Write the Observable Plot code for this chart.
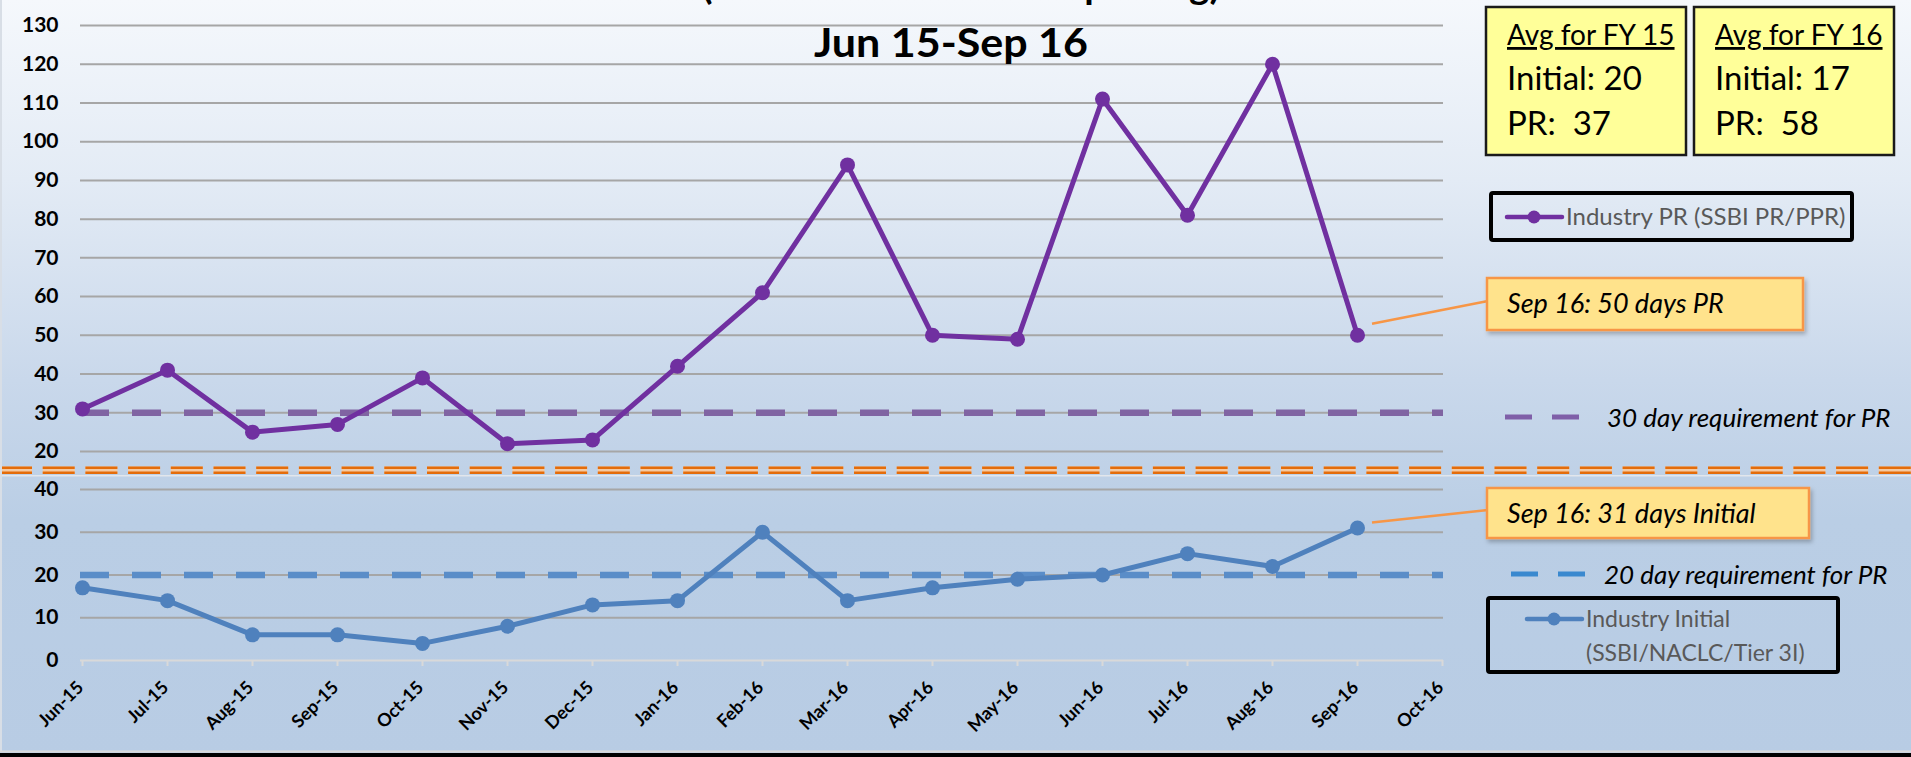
<!DOCTYPE html>
<html>
<head>
<meta charset="utf-8">
<script src="https://cdn.jsdelivr.net/npm/d3@7"></script>
<script src="https://cdn.jsdelivr.net/npm/@observablehq/plot@0.6"></script>
<style>
  html, body { margin: 0; padding: 0; }
  body { width: 1911px; height: 757px; overflow: hidden; font-family: Lato, "Open Sans", sans-serif; }
  #wrap { position: relative; width: 1911px; height: 757px;
    background: linear-gradient(to bottom, #F5F8FC 0px, #E3EBF5 180px, #C9D8EB 380px, #BACEE5 520px, #B8CCE4 757px); }
  #wrap > svg { position: absolute; left: 0; }
</style>
</head>
<body>
<div id="wrap"></div>
<script>
// ---------- data ----------
const months = ["Jun-15","Jul-15","Aug-15","Sep-15","Oct-15","Nov-15","Dec-15","Jan-16",
                "Feb-16","Mar-16","Apr-16","May-16","Jun-16","Jul-16","Aug-16","Sep-16","Oct-16"];
const prDays      = [31, 41, 25, 27, 39, 22, 23, 42, 61, 94, 50, 49, 111, 81, 120, 50];
const initialDays = [17, 14,  6,  6,  4,  8, 13, 14, 30, 14, 17, 19,  20, 25,  22, 31];
const prTicks      = [20, 30, 40, 50, 60, 70, 80, 90, 100, 110, 120, 130];
const initialTicks = [0, 10, 20, 30, 40];
const prRequirement = 30;
const initialRequirement = 20;
const titleLine1 = "(Initial and Periodic Reporting)";
const titleLine2 = "Jun 15-Sep 16";
const fyLabels  = ["Avg for FY 15", "Avg for FY 16"];
const fyInitial = [20, 17];
const fyPR      = [37, 58];
const prSeriesLabel = "Industry PR (SSBI PR/PPR)";
const initialSeriesLabel = ["Industry Initial", "(SSBI/NACLC/Tier 3I)"];
const prReqLabel = "30 day requirement for PR";
const initialReqLabel = "20 day requirement for PR";
const lastMonth = "Sep-16";
const prCallout = "Sep 16: 50 days PR";
const initialCallout = "Sep 16: 31 days Initial";

const rows = prDays.map((v, i) => ({month: months[i], pr: v, initial: initialDays[i]}));
const lastRow = rows.find(d => d.month === lastMonth);

const wrap = document.getElementById("wrap");
const font = "Lato, 'Open Sans', sans-serif";

// y tick labels as a text mark
const yLabels = ticks => Plot.text(ticks, {
  y: d => d, text: d => String(d), frameAnchor: "left", textAnchor: "end",
  dx: -22, fontSize: 21, fontWeight: "bold", fill: "black"
});

// ---------- top panel (PR) ----------
const topPlot = Plot.plot({
  width: 1911, height: 470,
  marginLeft: 80, marginRight: 468, marginTop: 25, marginBottom: 19,
  style: {background: "transparent", overflow: "visible", fontFamily: font},
  x: {type: "point", domain: months, padding: 0, axis: null},
  y: {domain: [20, 130], axis: null},
  marks: [
    Plot.ruleY(prTicks, {stroke: "#A6A6A6", strokeWidth: 2}),
    yLabels(prTicks),
    Plot.ruleY([prRequirement], {stroke: "#8064A2", strokeWidth: 6.5, strokeDasharray: "29,23"}),
    Plot.line(rows, {x: "month", y: "pr", stroke: "#7030A0", strokeWidth: 5}),
    Plot.dot(rows, {x: "month", y: "pr", r: 7.5, fill: "#7030A0", stroke: "none"})
  ]
});
topPlot.style.top = "0px";
wrap.appendChild(topPlot);

// ---------- bottom panel (Initial) ----------
const bottomTop = 470;
const bottomPlot = Plot.plot({
  width: 1911, height: 287,
  marginLeft: 80, marginRight: 468, marginTop: 19, marginBottom: 97,
  style: {background: "transparent", overflow: "visible", fontFamily: font},
  x: {type: "point", domain: months, padding: 0, axis: null},
  y: {domain: [0, 40], axis: null},
  marks: [
    Plot.ruleY(initialTicks.filter(d => d > 0), {stroke: "#A6A6A6", strokeWidth: 2}),
    Plot.ruleY([0], {stroke: "#D9D9D9", strokeWidth: 2}),
    yLabels(initialTicks),
    Plot.axisX(months, {label: null, tickSize: 6, stroke: "#D9D9D9", strokeWidth: 2, tickFormat: () => ""}),
    Plot.text(months, {x: d => d, text: d => d, frameAnchor: "bottom", rotate: -45, textAnchor: "end",
                       lineAnchor: "middle", dx: -2, dy: 24, fontSize: 18, fontWeight: "bold", fill: "black"}),
    Plot.ruleY([initialRequirement], {stroke: "#5A8DC8", strokeWidth: 6.5, strokeDasharray: "29,23"}),
    Plot.line(rows, {x: "month", y: "initial", stroke: "#4F81BD", strokeWidth: 5}),
    Plot.dot(rows, {x: "month", y: "initial", r: 7.5, fill: "#4F81BD", stroke: "none"})
  ]
});
bottomPlot.style.top = bottomTop + "px";
wrap.appendChild(bottomPlot);

// ---------- overlay: title, boxes, legends, callouts ----------
const xs = topPlot.scale("x"), ysTop = topPlot.scale("y");
const xb = bottomPlot.scale("x"), ysBot = bottomPlot.scale("y");
const prPt = [xs.apply(lastRow.month), ysTop.apply(lastRow.pr)];
const inPt = [xb.apply(lastRow.month), ysBot.apply(lastRow.initial) + bottomTop];

const svg = d3.select(wrap).append("svg")
  .attr("width", 1911).attr("height", 757)
  .style("top", "0px")
  .style("font-family", font);

const defs = svg.append("defs");
const f = defs.append("filter").attr("id", "shadow").attr("x", "-10%").attr("y", "-20%").attr("width", "130%").attr("height", "160%");
f.append("feDropShadow").attr("dx", 2).attr("dy", 3).attr("stdDeviation", 2).attr("flood-color", "#000").attr("flood-opacity", 0.25);

// titles
svg.append("text").attr("x", 961).attr("y", -1).attr("text-anchor", "middle")
  .attr("font-size", 38).attr("font-weight", "bold").attr("fill", "black")
  .attr("textLength", 518).attr("lengthAdjust", "spacingAndGlyphs").text(titleLine1);
svg.append("text").attr("x", 951).attr("y", 57).attr("text-anchor", "middle")
  .attr("font-size", 40).attr("font-weight", "bold").attr("fill", "black")
  .attr("textLength", 274).attr("lengthAdjust", "spacingAndGlyphs").text(titleLine2);

// FY average boxes
const boxX = [1486, 1694];
fyLabels.forEach((lab, i) => {
  const bx = boxX[i];
  svg.append("rect").attr("x", bx).attr("y", 7).attr("width", 200).attr("height", 148)
    .attr("fill", "#FFFF99").attr("stroke", "#1A1A1A").attr("stroke-width", 2.5);
  svg.append("text").attr("x", bx + 21).attr("y", 45).attr("font-size", 28).attr("fill", "black")
    .attr("text-decoration", "underline").text(lab);
  svg.append("text").attr("x", bx + 21).attr("y", 90).attr("font-size", 33).attr("fill", "black")
    .text("Initial: " + fyInitial[i]);
  svg.append("text").attr("x", bx + 21).attr("y", 135).attr("font-size", 33).attr("fill", "black")
    .attr("xml:space", "preserve").style("white-space", "pre").text("PR:  " + fyPR[i]);
});

// PR series legend
svg.append("rect").attr("x", 1491).attr("y", 193).attr("width", 361).attr("height", 47)
  .attr("rx", 2).attr("fill", "none").attr("stroke", "black").attr("stroke-width", 4);
svg.append("line").attr("x1", 1507).attr("x2", 1562).attr("y1", 217).attr("y2", 217)
  .attr("stroke", "#7030A0").attr("stroke-width", 4.5).attr("stroke-linecap", "round");
svg.append("circle").attr("cx", 1534).attr("cy", 217).attr("r", 6.5).attr("fill", "#7030A0");
svg.append("text").attr("x", 1566).attr("y", 225).attr("font-size", 24).attr("fill", "#595959").text(prSeriesLabel);

// callouts
function callout(pt, bx, by, bw, bh, label) {
  svg.append("line").attr("x1", pt[0] + 15).attr("y1", pt[1] - 11).attr("x2", bx + 1).attr("y2", by + bh / 2 - 3)
    .attr("stroke", "#F79646").attr("stroke-width", 2.5);
  svg.append("rect").attr("x", bx).attr("y", by).attr("width", bw).attr("height", bh)
    .attr("fill", "#FFE38C").attr("stroke", "#F79646").attr("stroke-width", 2.5)
    .attr("filter", "url(#shadow)");
  svg.append("text").attr("x", bx + 20).attr("y", by + 35).attr("font-size", 27).attr("font-style", "italic")
    .attr("fill", "black").text(label);
}
callout(prPt, 1487, 278, 316, 52, prCallout);
callout([inPt[0], inPt[1] + 6], 1487, 488, 322, 50, initialCallout);

// requirement legends
function reqLegend(x0, y, color, tx, label) {
  svg.append("line").attr("x1", x0).attr("x2", x0 + 27).attr("y1", y).attr("y2", y).attr("stroke", color).attr("stroke-width", 5);
  svg.append("line").attr("x1", x0 + 47).attr("x2", x0 + 74).attr("y1", y).attr("y2", y).attr("stroke", color).attr("stroke-width", 5);
  svg.append("text").attr("x", tx).attr("y", y + 10).attr("font-size", 26).attr("font-style", "italic")
    .attr("fill", "black").text(label);
}
reqLegend(1505, 417, "#7F5FA8", 1607, prReqLabel);
reqLegend(1511, 574, "#3A89CF", 1604, initialReqLabel);

// Initial series legend
svg.append("rect").attr("x", 1488).attr("y", 598).attr("width", 350).attr("height", 74)
  .attr("rx", 2).attr("fill", "none").attr("stroke", "black").attr("stroke-width", 4);
svg.append("line").attr("x1", 1527).attr("x2", 1582).attr("y1", 619).attr("y2", 619)
  .attr("stroke", "#4F81BD").attr("stroke-width", 4.5).attr("stroke-linecap", "round");
svg.append("circle").attr("cx", 1554).attr("cy", 619).attr("r", 6.5).attr("fill", "#4F81BD");
svg.append("text").attr("x", 1586).attr("y", 627).attr("font-size", 23).attr("fill", "#595959").text(initialSeriesLabel[0]);
svg.append("text").attr("x", 1586).attr("y", 661).attr("font-size", 23).attr("fill", "#595959").text(initialSeriesLabel[1]);

// panel break: double orange dashed line
svg.append("line").attr("x1", 0).attr("x2", 1911).attr("y1", 475.8).attr("y2", 475.8).attr("stroke", "#E2E6EC").attr("stroke-width", 1.6);
svg.append("line").attr("x1", 0).attr("x2", 1911).attr("y1", 470.3).attr("y2", 470.3)
  .attr("stroke", "#F5C9A0").attr("stroke-width", 7.5).attr("stroke-dasharray", "32,10.7");
[467.8, 472.8].forEach(y => svg.append("line").attr("x1", 0).attr("x2", 1911).attr("y1", y).attr("y2", y)
  .attr("stroke", "#E46C0A").attr("stroke-width", 2.6).attr("stroke-dasharray", "32,10.7"));

// frame edges
svg.append("line").attr("x1", 1).attr("x2", 1).attr("y1", 0).attr("y2", 752).attr("stroke", "#D8DEE6").attr("stroke-width", 2);
svg.append("line").attr("x1", 0).attr("x2", 1911).attr("y1", 751.5).attr("y2", 751.5).attr("stroke", "#D9D9D9").attr("stroke-width", 2);
svg.append("rect").attr("x", 0).attr("y", 753).attr("width", 1911).attr("height", 4).attr("fill", "black");
</script>
</body>
</html>
